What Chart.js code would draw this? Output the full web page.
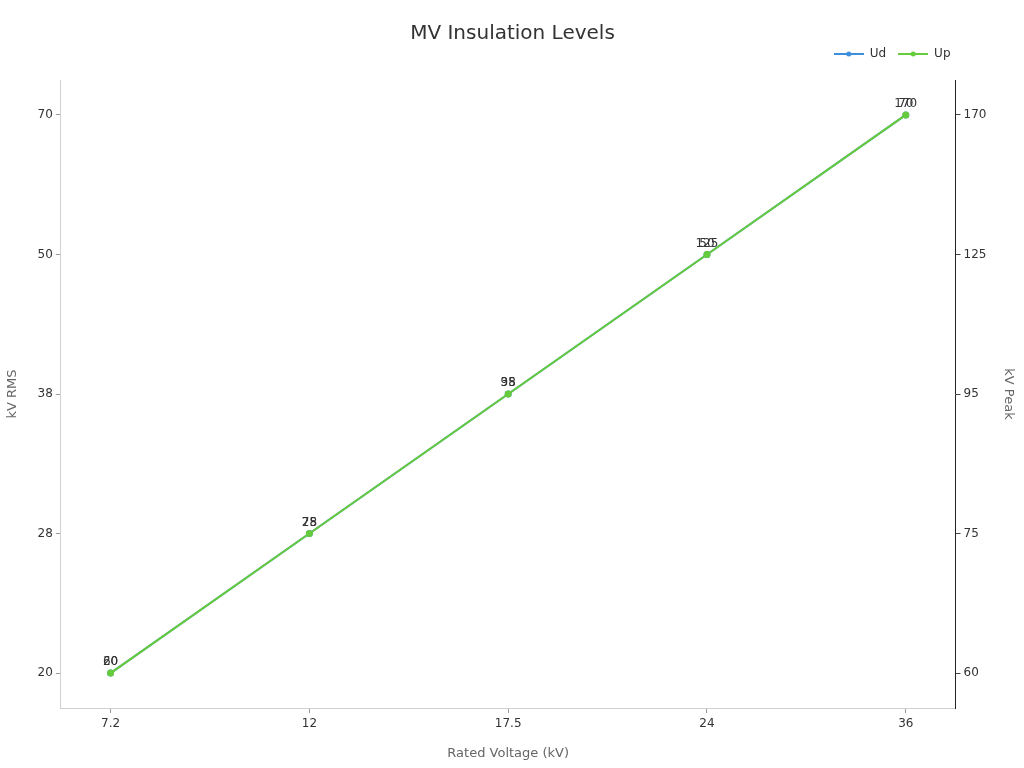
<!DOCTYPE html>
<html>
<head>
<meta charset="utf-8">
<script src="https://cdn.jsdelivr.net/npm/chart.js@4/dist/chart.umd.min.js"></script>
<style>
html, body { margin: 0; padding: 0; background: #fff; }
#wrap { width: 1024px; height: 768px; }
</style>
</head>
<body>
<div id="wrap"><canvas id="insulationChart"></canvas></div>
<script>
const ratedVoltages = ['7.2', '12', '17.5', '24', '36'];
const udValues = [20, 28, 38, 50, 70];
const upValues = [60, 75, 95, 125, 170];
const udTicks = [20, 28, 38, 50, 70];
const upTicks = [60, 75, 95, 125, 170];

const udColor = '#3d8fdc';
const upColor = '#66cc3c';
const FONT = '"DejaVu Sans", sans-serif';

// line + dot marker for the legend
function legendMarker(color) {
    const c = document.createElement('canvas');
    c.width = 30;
    c.height = 8;
    const g = c.getContext('2d');
    g.strokeStyle = color;
    g.lineWidth = 2;
    g.beginPath();
    g.moveTo(0, 4);
    g.lineTo(30, 4);
    g.stroke();
    g.fillStyle = color;
    g.beginPath();
    g.arc(15, 4, 2.5, 0, Math.PI * 2);
    g.fill();
    return c;
}
const markers = [legendMarker(udColor), legendMarker(upColor)];

// category axes with a quarter-step gap at both ends
function padCategory(scale) {
    scale._startValue -= 0.25;
    scale._valueRange += 0.5;
}

const pointLabels = {
    id: 'pointLabels',
    afterLayout(chart) {
        // legend row sits higher and further right than the default box
        const lg = chart.legend;
        lg.top -= 10;
        lg.bottom -= 10;
        lg.right += 7;
    },
    afterDatasetsDraw(chart) {
        const ctx = chart.ctx;
        ctx.save();
        ctx.font = '12px ' + FONT;
        ctx.fillStyle = '#333';
        ctx.textAlign = 'center';
        ctx.textBaseline = 'bottom';
        chart.data.datasets.forEach((ds, i) => {
            chart.getDatasetMeta(i).data.forEach((pt, j) => {
                ctx.fillText(ds.data[j], pt.x, pt.y - 5);
            });
        });
        ctx.restore();
    }
};

const axisTitle = { size: 13, family: FONT };

new Chart(document.getElementById('insulationChart'), {
    type: 'line',
    data: {
        labels: ratedVoltages,
        datasets: [{
            label: 'Ud',
            data: udValues.map(String),
            yAxisID: 'y',
            order: 1,
            borderColor: udColor,
            backgroundColor: udColor,
            borderWidth: 2,
            pointRadius: 2.5,
            tension: 0
        }, {
            label: 'Up',
            data: upValues.map(String),
            yAxisID: 'y1',
            order: 0,
            borderColor: upColor,
            backgroundColor: upColor,
            borderWidth: 2,
            pointRadius: 2.5,
            tension: 0
        }]
    },
    options: {
        responsive: true,
        maintainAspectRatio: false,
        animation: false,
        layout: { padding: { left: 1, right: 0, bottom: 3 } },
        plugins: {
            title: {
                display: true,
                text: 'MV Insulation Levels',
                color: '#333',
                font: { size: 20, weight: 'normal', family: FONT },
                padding: { top: 22, bottom: 0 }
            },
            legend: {
                align: 'end',
                fullSize: false,
                labels: {
                    usePointStyle: true,
                    pointStyleWidth: 30,
                    color: '#333',
                    font: { size: 12, family: FONT },
                    padding: 12,
                    sort: (a, b) => a.datasetIndex - b.datasetIndex,
                    generateLabels(chart) {
                        return Chart.defaults.plugins.legend.labels.generateLabels(chart)
                            .map(item => ({ ...item, pointStyle: markers[item.datasetIndex] }));
                    }
                }
            },
            tooltip: { enabled: false }
        },
        scales: {
            x: {
                type: 'category',
                offset: false,
                afterBuildTicks: padCategory,
                border: { color: '#d0d0d0' },
                grid: { drawOnChartArea: false, tickLength: 5, color: '#999' },
                ticks: { color: '#333', font: { size: 12, family: FONT }, padding: 4 },
                title: { display: true, text: 'Rated Voltage (kV)', color: '#666', font: axisTitle, padding: { top: 10, bottom: 4 } }
            },
            y: {
                type: 'category',
                position: 'left',
                labels: udTicks.map(String),
                reverse: true,
                offset: false,
                afterBuildTicks: padCategory,
                border: { color: '#d0d0d0' },
                grid: { drawOnChartArea: false, tickLength: 5, color: '#999' },
                ticks: { color: '#333', font: { size: 12, family: FONT }, padding: 3 },
                title: { display: true, text: 'kV RMS', color: '#666', font: axisTitle, padding: { bottom: 14 } }
            },
            y1: {
                type: 'category',
                position: 'right',
                labels: upTicks.map(String),
                reverse: true,
                offset: false,
                afterBuildTicks: padCategory,
                border: { color: '#222' },
                grid: { drawOnChartArea: false, tickLength: 5, color: '#444' },
                ticks: { color: '#333', font: { size: 12, family: FONT }, padding: 3 },
                title: { display: true, text: 'kV Peak', color: '#666', font: axisTitle, padding: { top: 8, bottom: 11 } }
            }
        }
    },
    plugins: [pointLabels]
});
</script>
</body>
</html>
